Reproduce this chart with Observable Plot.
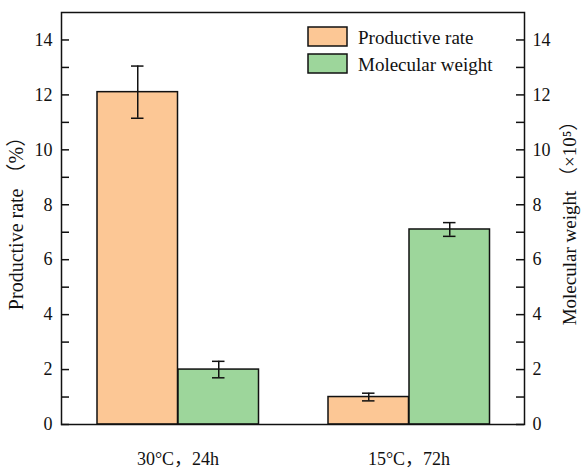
<!DOCTYPE html>
<html>
<head>
<meta charset="utf-8">
<script src="https://cdn.jsdelivr.net/npm/d3@7"></script>
<script src="https://cdn.jsdelivr.net/npm/@observablehq/plot@0.6"></script>
<style>
  html, body { margin: 0; padding: 0; background: #fff; }
  #chart { position: relative; width: 582px; height: 470px; }
  #chart svg text { font-family: 'Liberation Serif', 'Times New Roman', 'Noto Sans CJK SC', serif; }
</style>
</head>
<body>
<div id="chart"></div>
<script>
// ---- data ----
const groups = ["30°C，24h", "15°C，72h"];
const seriesNames = ["Productive rate", "Molecular weight"];
const rateValues = [12.1, 1.0];
const rateErrors = [0.95, 0.14];
const mwValues = [2.0, 7.1];
const mwErrors = [0.3, 0.25];
const majorTicks = [0, 2, 4, 6, 8, 10, 12, 14];
const minorTicks = [1, 3, 5, 7, 9, 11, 13];
const colors = ["#FCC795", "#9DD69B"];
const leftTitle = "Productive rate （%）";
const rightTitle = "Molecular weight （×10⁵）";

// ---- layout ----
const W = 582, H = 470;
const mL = 61, mR = 58, mT = 12, mB = 46;
const plotW = W - mL - mR;
const bw = plotW / groups.length;
const barW = 81, outer = 35, capHalf = 6.5, tickLen = 8;
const font = "'Liberation Serif', 'Times New Roman', serif";
const ink = "#111";

const rows = groups.flatMap((g, i) => [
  {group: g, series: seriesNames[0], value: rateValues[i], err: rateErrors[i], k: 0},
  {group: g, series: seriesNames[1], value: mwValues[i], err: mwErrors[i], k: 1}
]);
const rs = rows.filter(d => d.k === 0);
const ms = rows.filter(d => d.k === 1);

const cOff0 = outer + barW / 2 - bw / 2;
const cOff1 = outer + barW * 1.5 - bw / 2;
const allTicks = majorTicks.concat(minorTicks);

const chart = Plot.plot({
  width: W, height: H,
  marginLeft: mL, marginRight: mR, marginTop: mT, marginBottom: mB,
  style: {fontFamily: font, fontSize: "18px", color: ink, background: "#fff"},
  x: {type: "band", domain: groups, padding: 0},
  y: {domain: [0, 15]},
  marks: [
    Plot.barY(rs, {x: "group", y: "value", fill: colors[0], stroke: ink, strokeWidth: 1.5,
      insetLeft: outer, insetRight: bw - outer - barW}),
    Plot.barY(ms, {x: "group", y: "value", fill: colors[1], stroke: ink, strokeWidth: 1.5,
      insetLeft: outer + barW, insetRight: bw - outer - 2 * barW}),
    Plot.ruleX(rs, {x: "group", y1: d => d.value - d.err, y2: d => d.value + d.err, dx: cOff0, stroke: ink, strokeWidth: 1.5}),
    Plot.ruleX(ms, {x: "group", y1: d => d.value - d.err, y2: d => d.value + d.err, dx: cOff1, stroke: ink, strokeWidth: 1.5}),
    ...[d => d.value + d.err, d => d.value - d.err].flatMap(fy => [
      Plot.tickY(rs, {x: "group", y: fy, stroke: ink, strokeWidth: 1.5,
        insetLeft: outer + barW / 2 - capHalf, insetRight: bw - (outer + barW / 2 + capHalf)}),
      Plot.tickY(ms, {x: "group", y: fy, stroke: ink, strokeWidth: 1.5,
        insetLeft: outer + barW * 1.5 - capHalf, insetRight: bw - (outer + barW * 1.5 + capHalf)})
    ]),
    Plot.tickY(allTicks, {y: d => d, insetRight: plotW - tickLen, stroke: ink, strokeWidth: 1.5}),
    Plot.tickY(allTicks, {y: d => d, insetLeft: plotW - tickLen, stroke: ink, strokeWidth: 1.5}),
    Plot.frame({stroke: ink, strokeWidth: 1.5}),
    Plot.axisY({anchor: "left", ticks: majorTicks, tickSize: 0, tickPadding: 9, label: null, fontSize: 18, fill: ink}),
    Plot.axisY({anchor: "right", ticks: majorTicks, tickSize: 0, tickPadding: 8, label: null, fontSize: 18, fill: ink}),
    Plot.axisX({tickSize: 0, tickPadding: 28, label: null, fontSize: 18, fill: ink}),
    Plot.text([leftTitle], {text: d => d, frameAnchor: "left", textAnchor: "middle", dx: -45, rotate: -90, fontSize: 20, fill: ink}),
    Plot.text([rightTitle], {text: d => d, frameAnchor: "right", textAnchor: "middle", dx: 45, rotate: -90, fontSize: 19, fill: ink})
  ]
});
document.getElementById("chart").appendChild(chart);

// ---- legend (inside plot, top right) ----
const svg = d3.select(chart);
const lg = svg.append("g").attr("font-size", 19).attr("fill", ink).attr("text-anchor", "start");
seriesNames.forEach((name, i) => {
  const y0 = 27 + i * 27;
  lg.append("rect").attr("x", 308).attr("y", y0).attr("width", 39).attr("height", 19)
    .attr("fill", colors[i]).attr("stroke", ink).attr("stroke-width", 1.5);
  lg.append("text").attr("x", 358).attr("y", y0 + 10).attr("dy", "0.35em")
    .attr("text-anchor", "start").text(name);
});
</script>
</body>
</html>
